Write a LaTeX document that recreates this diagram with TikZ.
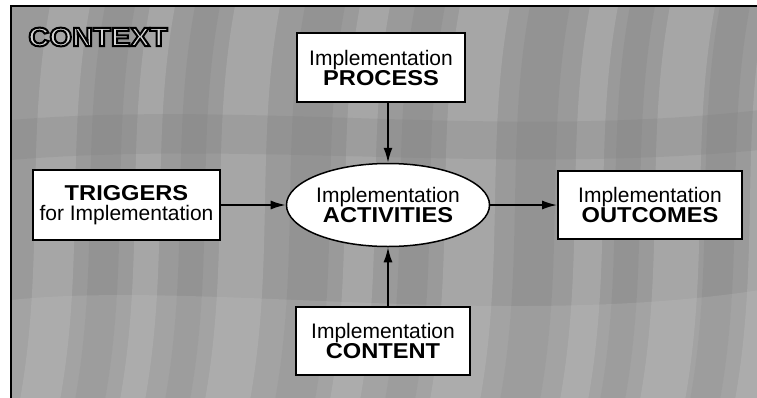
\documentclass[tikz,border=0pt]{standalone}
\usepackage{fontspec}
\setmainfont{Liberation Sans}
\newfontfamily\widebold[FakeStretch=1.1]{Liberation Sans Bold}
\usetikzlibrary{arrows.meta,shapes.geometric}

\definecolor{ctxgray}{RGB}{154,154,154}
\definecolor{ctxlight}{RGB}{200,200,200}
\definecolor{ctxdark}{RGB}{120,120,120}
\definecolor{ctxletter}{RGB}{212,212,212}

\tikzset{
  box/.style={draw=black, line width=1.8pt, fill=white, align=center,
    inner sep=0pt, font=\fontsize{21}{20}\selectfont},
  act/.style={ellipse, draw=black, line width=1.5pt, fill=white, align=center,
    inner sep=0pt, minimum width=200pt, minimum height=83pt,
    font=\fontsize{21}{20}\selectfont},
  link/.style={line width=1.8pt, -{Latex[length=15pt,width=9pt]}},
  heading/.style={font=\widebold\fontsize{26.5}{26}\selectfont, text=ctxletter},
}

\newcommand{\bigword}[1]{{\widebold\fontsize{21.5}{20}\selectfont #1}}
% light letters with a black stroked rim (text render mode 2)
\newcommand{\rimmed}[1]{\special{pdf:literal direct 2 Tr 2 w 0 G}#1\special{pdf:literal direct 0 Tr}}

\begin{document}
\begin{tikzpicture}[x=1pt, y=-1pt]
  \useasboundingbox (0,0) rectangle (757,397);
  \clip (0,0) rectangle (757,397);

  % context field with a mottled, streaky tone
  \fill[ctxgray] (11,6) rectangle (760,400);
  \begin{scope}[opacity=0.28]
    \foreach \s/\w in {20/40,120/25,205/45,330/30,430/50,560/28,640/45,735/30}{
      \fill[ctxlight] (\s,400) .. controls (\s+25,260) and (\s+5,140) .. (\s+30,6)
        -- (\s+30+\w,6) .. controls (\s+5+\w,140) and (\s+25+\w,260) .. (\s+\w,400) -- cycle;
    }
  \end{scope}
  \begin{scope}[opacity=0.18]
    \foreach \s/\w in {75/30,165/25,275/40,385/30,500/40,600/25,690/30}{
      \fill[ctxdark] (\s,400) .. controls (\s+25,260) and (\s+5,140) .. (\s+30,6)
        -- (\s+30+\w,6) .. controls (\s+5+\w,140) and (\s+25+\w,260) .. (\s+\w,400) -- cycle;
    }
    \fill[ctxdark] (11,120) .. controls (250,100) and (500,140) .. (760,110)
      -- (760,150) .. controls (500,175) and (250,140) .. (11,160) -- cycle;
  \end{scope}
  \begin{scope}[opacity=0.2]
    \fill[ctxlight] (11,300) .. controls (200,280) and (500,330) .. (760,290)
      -- (760,400) -- (11,400) -- cycle;
  \end{scope}
  \draw[line width=1.8pt] (11,400) -- (11,6) -- (760,6);

  % CONTEXT heading
  \node[heading] (ctx) at (98,37) {\rimmed{CONTEXT}};

  % nodes
  \node[box, minimum width=168pt, minimum height=69pt] (proc) at (381,67.5)
    {Implementation\\\bigword{PROCESS}};
  \node[box, minimum width=187pt, minimum height=70pt] (trig) at (126.5,205)
    {\bigword{TRIGGERS}\\for Implementation};
  \node[box, minimum width=184pt, minimum height=68pt] (outc) at (650,205)
    {Implementation\\\bigword{OUTCOMES}};
  \node[box, minimum width=174pt, minimum height=68pt] (cont) at (383,341)
    {Implementation\\\bigword{CONTENT}};
  \node[act] (actv) at (388,205) {Implementation\\\bigword{ACTIVITIES}};

  % connectors
  \draw[link] (actv.north |- proc.south) -- (actv.north);
  \draw[link] (actv.south |- cont.north) -- (actv.south);
  \draw[link] (trig.east) -- (trig.east -| actv.west);
  \draw[link] (actv.east) -- (actv.east -| outc.west);
\end{tikzpicture}
\end{document}
